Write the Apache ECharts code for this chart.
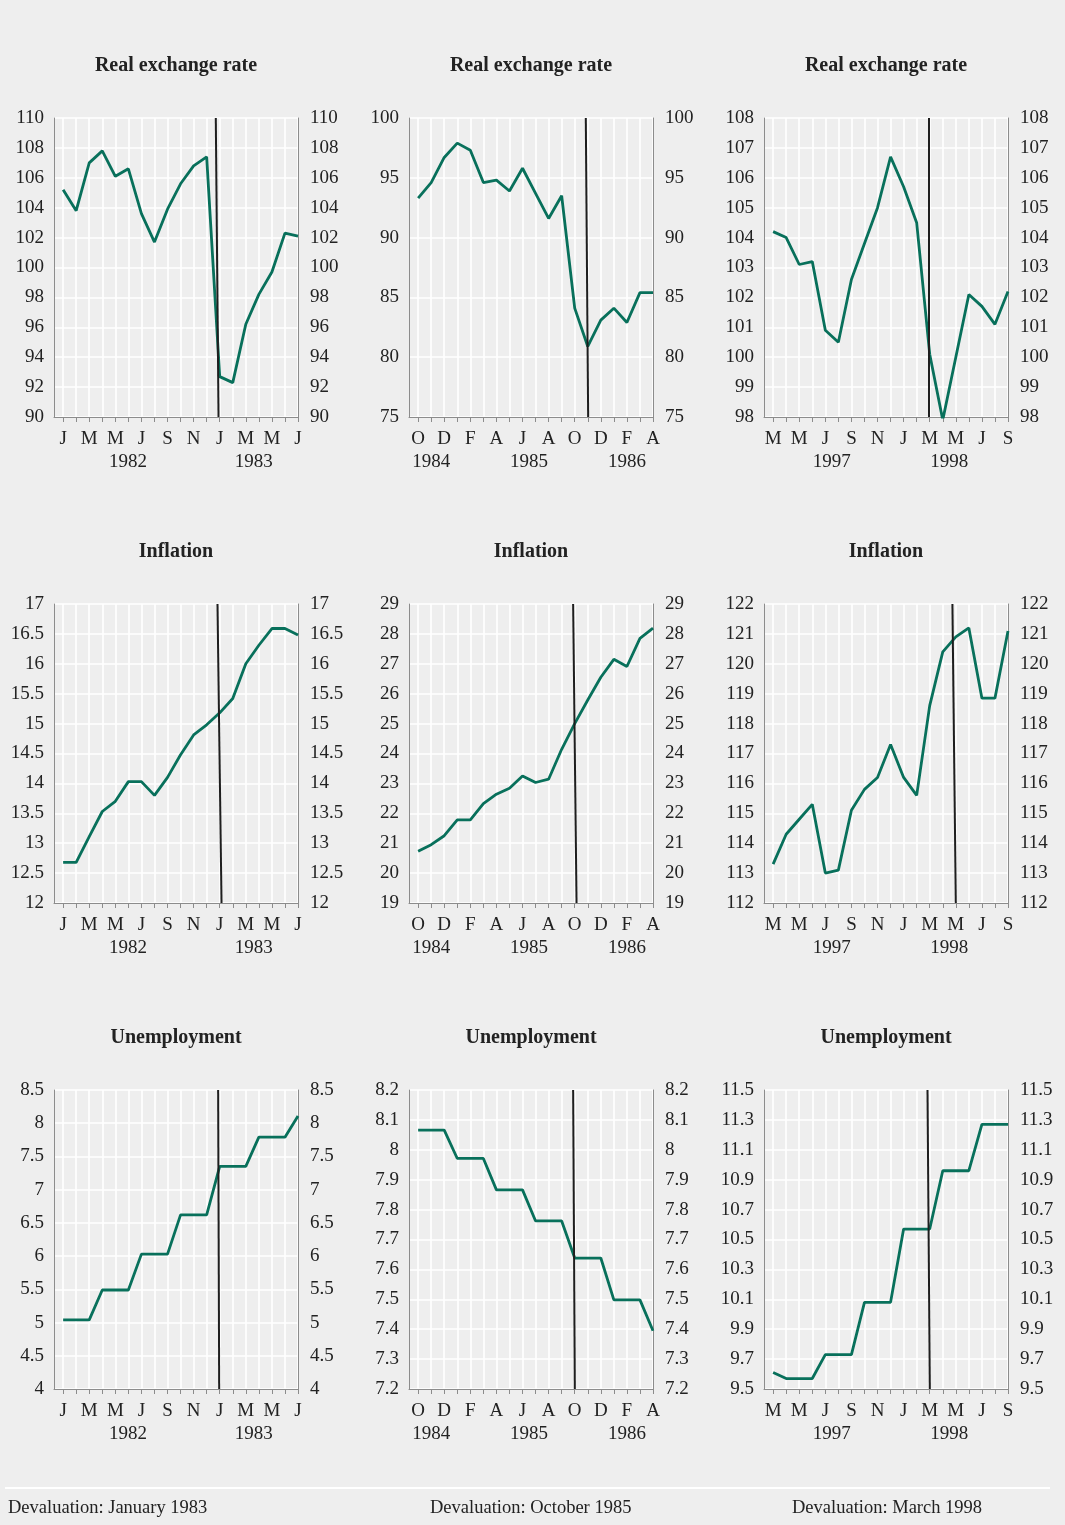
<!DOCTYPE html>
<html>
<head>
<meta charset="utf-8">
<script src="https://cdn.jsdelivr.net/npm/echarts@6/dist/echarts.min.js"></script>
<style>
body { margin: 0; background: #eeeeee; }
#chartmain { width: 1065px; height: 1525px; }
</style>
</head>
<body>
<div id="chartmain"></div>
<script>
// month letters for each period (one per monthly point)
var monthsA = ['J','F','M','A','M','J','J','A','S','O','N','D','J','F','M','A','M','J','J'];
var monthsB = ['O','N','D','J','F','M','A','M','J','J','A','S','O','N','D','J','F','M','A'];
var monthsC = ['M','A','M','J','J','A','S','O','N','D','J','F','M','A','M','J','J','A','S'];

var yearsA = ['1982', '1983'];
var yearPosA = [4.97, 14.6];
var yearsB = ['1984', '1985', '1986'];
var yearPosB = [1.0, 8.5, 16.0];
var yearsC = ['1997', '1998'];
var yearPosC = [4.5, 13.5];

var titles = ['Real exchange rate', 'Inflation', 'Unemployment'];
var footers = ['Devaluation: January 1983', 'Devaluation: October 1985', 'Devaluation: March 1998'];

// real exchange rate
var rerA = [105.2, 103.8, 107.0, 107.8, 106.1, 106.6, 103.6, 101.7, 103.9, 105.6, 106.8, 107.4, 92.7, 92.3, 96.2, 98.2, 99.7, 102.3, 102.1];
var rerB = [93.3, 94.6, 96.7, 97.9, 97.3, 94.6, 94.8, 93.9, 95.8, 93.7, 91.6, 93.5, 84.1, 80.9, 83.1, 84.1, 82.9, 85.4, 85.4];
var rerC = [104.2, 104.0, 103.1, 103.2, 100.9, 100.5, 102.6, 103.8, 105.0, 106.7, 105.7, 104.5, 100.1, 97.9, 100.0, 102.1, 101.7, 101.1, 102.2];
// inflation
var infA = [12.68, 12.68, 13.11, 13.53, 13.7, 14.03, 14.03, 13.8, 14.1, 14.48, 14.81, 14.98, 15.18, 15.42, 16.0, 16.31, 16.59, 16.59, 16.48];
var infB = [20.73, 20.95, 21.25, 21.78, 21.78, 22.32, 22.64, 22.84, 23.25, 23.03, 23.14, 24.14, 25.0, 25.79, 26.55, 27.15, 26.91, 27.85, 28.19];
var infC = [113.3, 114.3, 114.8, 115.3, 113.0, 113.1, 115.1, 115.8, 116.2, 117.3, 116.2, 115.6, 118.6, 120.4, 120.9, 121.2, 118.85, 118.85, 121.1];
// unemployment
var unA = [5.04, 5.04, 5.04, 5.49, 5.49, 5.49, 6.03, 6.03, 6.03, 6.62, 6.62, 6.62, 7.35, 7.35, 7.35, 7.79, 7.79, 7.79, 8.11];
var unB = [8.066, 8.066, 8.066, 7.971, 7.971, 7.971, 7.866, 7.866, 7.866, 7.762, 7.762, 7.762, 7.638, 7.638, 7.638, 7.498, 7.498, 7.498, 7.395];
var unC = [9.61, 9.57, 9.57, 9.57, 9.73, 9.73, 9.73, 10.08, 10.08, 10.08, 10.57, 10.57, 10.57, 10.96, 10.96, 10.96, 11.27, 11.27, 11.27];

// y scales: [min, max, step]
var scaleRer = [[90, 110, 2], [75, 100, 5], [98, 108, 1]];
var scaleInf = [[12, 17, 0.5], [19, 29, 1], [112, 122, 1]];
var scaleUn = [[4, 8.5, 0.5], [7.2, 8.2, 0.1], [9.5, 11.5, 0.2]];

// devaluation line, month position at top and at bottom of the panel
var devRer = [[11.70, 11.91], [12.85, 13.03], [11.96, 11.96]];
var devInf = [[11.83, 12.14], [11.88, 12.14], [13.74, 14.0]];
var devUn = [[11.88, 11.96], [11.88, 12.01], [11.83, 12.01]];

var series = [[rerA, rerB, rerC], [infA, infB, infC], [unA, unB, unC]];
var scales = [scaleRer, scaleInf, scaleUn];
var devs = [devRer, devInf, devUn];
var months = [monthsA, monthsB, monthsC];
var years = [yearsA, yearsB, yearsC];
var yearPos = [yearPosA, yearPosB, yearPosC];

var font = '"Liberation Serif", "Times New Roman", serif';
var txt = '#222222';
var axisGrey = '#8c8c8c';
var lineColor = '#08705b';

var colLeft = [54, 409, 764];
var rowTop = [118, 604, 1090];
var gw = 244, gh = 299;

var grids = [], xAxes = [], yAxes = [], seriesList = [], graphics = [];

function range(n) {
	var a = [];
	for (var i = 0; i < n; i++) a.push(i);
	return a;
}

function steps(s) {
	var a = [];
	var n = Math.round((s[1] - s[0]) / s[2]);
	for (var i = 0; i <= n; i++) a.push(Math.round((s[0] + i * s[2]) * 1000) / 1000);
	return a;
}

for (var r = 0; r < 3; r++) {
	for (var c = 0; c < 3; c++) {
		var k = r * 3 + c;
		var sc = scales[r][c];
		var data = series[r][c];
		var mon = months[c];
		var yrs = years[c];
		var yp = yearPos[c];
		var n = data.length;
		var evens = range(n).filter(function(i) { return i % 2 == 0; });
		var yticks = steps(sc);

		grids.push({ left: colLeft[c], top: rowTop[r], width: gw, height: gh, containLabel: false });

		(function(mon, yrs, yp) {
			xAxes.push({
				type: 'value', gridIndex: k, min: -0.7, max: n - 1, position: 'bottom',
				axisLine: { show: true, onZero: false, lineStyle: { color: axisGrey, width: 1 } },
				axisTick: { show: true, length: 5, customValues: range(n), lineStyle: { color: axisGrey } },
				splitLine: { show: true, lineStyle: { color: '#ffffff', width: 1.6 } },
				axisLabel: {
					customValues: evens, margin: 13, color: txt, fontFamily: font, fontSize: 19,
					formatter: function(v) { return mon[Math.round(v)] || ''; }
				}
			});
			xAxes.push({
				type: 'value', gridIndex: k, min: -0.7, max: n - 1, position: 'bottom',
				axisLine: { show: false, onZero: false }, axisTick: { show: false }, splitLine: { show: false },
				axisLabel: {
					customValues: yp, margin: 36, color: txt, fontFamily: font, fontSize: 19,
					formatter: function(v) {
						for (var j = 0; j < yp.length; j++) if (Math.abs(yp[j] - v) < 0.01) return yrs[j];
						return '';
					}
				}
			});
		})(mon, yrs, yp);

		yAxes.push({
			type: 'value', gridIndex: k, min: sc[0], max: sc[1], position: 'left',
			axisLabel: { customValues: yticks, margin: 10, color: txt, fontFamily: font, fontSize: 19 },
			axisTick: { show: false, customValues: yticks },
			axisLine: { show: true, onZero: false, lineStyle: { color: axisGrey, width: 1 } },
			splitLine: { show: true, lineStyle: { color: '#ffffff', width: 1.6 } }
		});
		yAxes.push({
			type: 'value', gridIndex: k, min: sc[0], max: sc[1], position: 'right',
			axisLabel: { customValues: yticks, margin: 12, color: txt, fontFamily: font, fontSize: 19 },
			axisTick: { show: false, customValues: yticks },
			axisLine: { show: true, onZero: false, lineStyle: { color: axisGrey, width: 1 } },
			splitLine: { show: false }
		});

		var pts = data.map(function(v, i) { return [i, v]; });
		var dv = devs[r][c];
		seriesList.push({
			type: 'line', xAxisIndex: 2 * k, yAxisIndex: 2 * k, data: pts,
			showSymbol: false, symbol: 'none',
			lineStyle: { color: lineColor, width: 2.8 },
			z: 3,
			markLine: {
				silent: true, symbol: 'none', label: { show: false },
				lineStyle: { color: '#1e1e1e', width: 2, type: 'solid' },
				z: 4,
				data: [[{ coord: [dv[0], sc[1]] }, { coord: [dv[1], sc[0]] }]]
			}
		});

		graphics.push({
			type: 'text', x: colLeft[c] + gw / 2, y: rowTop[r] - 52,
			style: { text: titles[r], font: 'bold 20px ' + font, fill: txt, textAlign: 'center', textVerticalAlign: 'middle' }
		});
	}
}

// footer rule and devaluation notes
graphics.push({ type: 'line', shape: { x1: 5, y1: 1488, x2: 1050, y2: 1488 }, style: { stroke: '#ffffff', lineWidth: 2 } });
var footX = [8, 430, 792];
for (var f = 0; f < footers.length; f++) {
	graphics.push({
		type: 'text', x: footX[f], y: 1508,
		style: { text: footers[f], font: '18.5px ' + font, fill: txt, textAlign: 'left', textVerticalAlign: 'middle' }
	});
}

var option = {
	backgroundColor: '#eeeeee',
	animation: false,
	grid: grids,
	xAxis: xAxes,
	yAxis: yAxes,
	series: seriesList,
	graphic: graphics
};

var myChart = echarts.init(document.getElementById('chartmain'));
myChart.setOption(option);
</script>
</body>
</html>
